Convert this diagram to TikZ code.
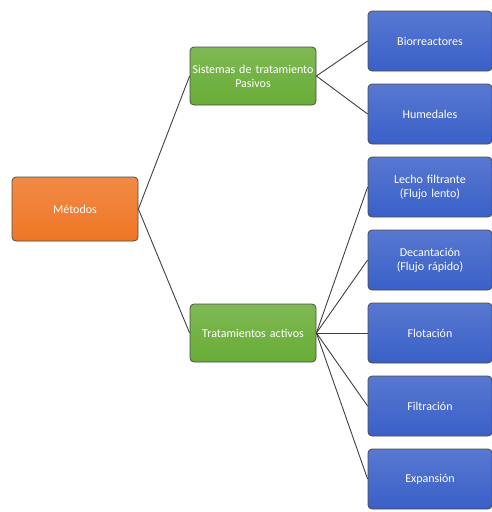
\documentclass[tikz,border=0pt]{standalone}
\usepackage{fontspec}
\setmainfont{Carlito}
\usepackage[dvipsnames]{xcolor}

\definecolor{rootorange}{HTML}{EF7625}
\definecolor{midgreen}{HTML}{68AC36}
\definecolor{leafblue}{HTML}{3A60C8}

\begin{document}
\begin{tikzpicture}[x=1pt,y=1pt,thick,
    box/.style={rectangle,rounded corners=4pt,draw=black!70,line width=0.8pt,text=white,align=center,font=\large,inner sep=1pt,text width=124pt},
    root node/.style={box,top color=rootorange!85!white,bottom color=rootorange,minimum width=126pt,minimum height=64pt},
    mid node/.style={box,top color=midgreen!85!white,bottom color=midgreen,minimum width=126pt,minimum height=58pt},
    leaf node/.style={box,top color=leafblue!85!white,bottom color=leafblue,minimum width=124pt,minimum height=60pt,text width=120pt}]
                    \useasboundingbox (0,0) rectangle (492,-512);
                    \node[root node] (m) at (75,-209) {Métodos};
                    \node[mid node] (p) at (253,-76) {Sistemas de tratamiento\\Pasivos};
                    \node[mid node] (a) at (253,-333) {Tratamientos activos};

                    \node[leaf node] (p1) at (430,-41) {Biorreactores};
                    \node[leaf node] (p2) at (430,-114) {Humedales};
                    \node[leaf node] (a1) at (430,-187) {Lecho filtrante\\(Flujo lento)};
                    \node[leaf node] (a2) at (430,-260) {Decantación\\(Flujo rápido)};
                    \node[leaf node] (a3) at (430,-333) {Flotación};
                    \node[leaf node] (a4) at (430,-406) {Filtración};
                    \node[leaf node] (a5) at (430,-479) {Expansión};

                    \path[draw=black!75,line width=0.9pt]
                        (m.east) edge (p.west)
                        (m.east) edge (a.west)
                        (p.east) edge (p1.west)
                        (p.east) edge (p2.west)
                        (a.east) edge (a1.west)
                        (a.east) edge (a2.west)
                        (a.east) edge (a3.west)
                        (a.east) edge (a4.west)
                        (a.east) edge (a5.west)
                        ;
                \end{tikzpicture}
\end{document}
